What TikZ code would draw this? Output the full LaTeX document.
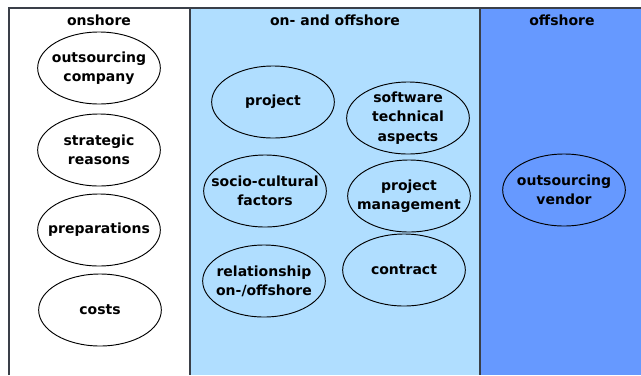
\documentclass[tikz,border=0pt]{standalone}
\usepackage{fontspec}
\setmainfont{DejaVu Sans}
\usetikzlibrary{shapes.geometric}
\definecolor{lightzone}{HTML}{B0DEFF}
\definecolor{darkzone}{HTML}{6699FF}
\definecolor{edgegray}{HTML}{3A3F48}
\tikzset{
  topic/.style={ellipse, draw=black, line width=0.7pt, minimum width=92pt, minimum height=54pt,
    inner xsep=-25pt, inner ysep=-8pt, align=center, font=\bfseries\fontsize{10.5}{14.5}\selectfont},
  zonetitle/.style={font=\bfseries\fontsize{10.5}{12}\selectfont, inner sep=0pt}
}
\begin{document}
\begin{tikzpicture}[x=0.75pt,y=-0.75pt]
  \useasboundingbox (0,0) rectangle (641,375);
  % zones
  \fill[white] (9,8) rectangle (190,375);
  \fill[lightzone] (190,8) rectangle (480,375);
  \fill[darkzone] (480,8) rectangle (641,375);
  \draw[edgegray, line width=1.1pt] (9,375) -- (9,8) -- (641,8);
  \draw[edgegray, line width=1.1pt] (190,8) -- (190,375);
  \draw[edgegray, line width=1.1pt] (480,8) -- (480,375);
  \node[zonetitle] (on) at (99,20) {onshore};
  \node[zonetitle] (both) at (335,20) {on- and offshore};
  \node[zonetitle] (off) at (562,20) {offshore};
  % onshore
  \node[topic] (company) at (99,68) {outsourcing\\company};
  \node[topic] (reasons) at (99,150) {strategic\\reasons};
  \node[topic] (prep) at (99,230) {preparations};
  \node[topic] (costs) at (100,310) {costs};
  % on- and offshore
  \node[topic] (project) at (273,102) {project};
  \node[topic] (software) at (408,118) {software\\technical\\aspects};
  \node[topic] (socio) at (265,191) {socio-cultural\\factors};
  \node[topic] (mgmt) at (409,196) {project\\management};
  \node[topic] (relation) at (264,281) {relationship\\on-/offshore};
  \node[topic] (contract) at (404,270) {contract};
  % offshore
  \node[topic] (vendor) at (564,190) {outsourcing\\vendor};
\end{tikzpicture}
\end{document}
